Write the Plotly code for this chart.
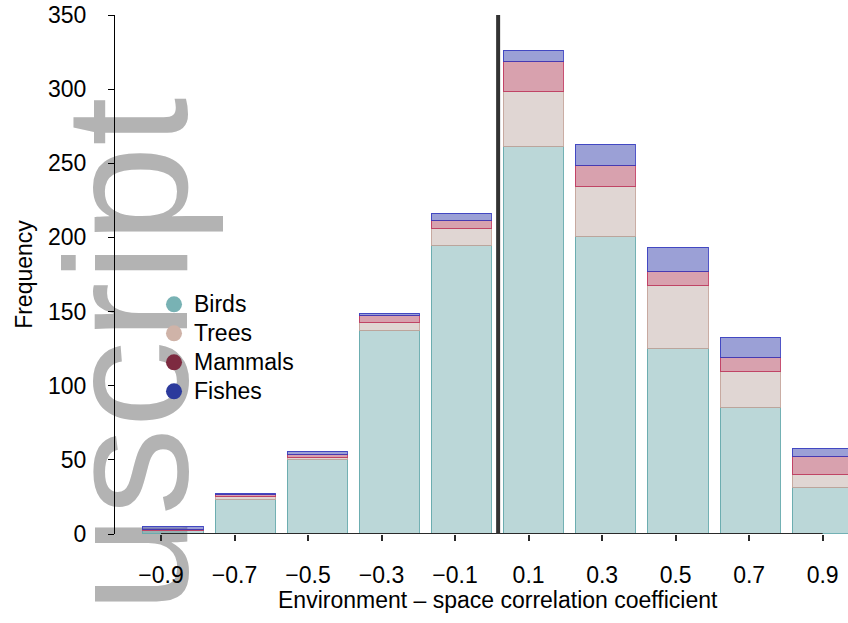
import plotly.graph_objects as go

# ---------------- data ----------------
bins = [-0.9, -0.7, -0.5, -0.3, -0.1, 0.1, 0.3, 0.5, 0.7, 0.9]
tick_labels = ["\u22120.9", "\u22120.7", "\u22120.5", "\u22120.3", "\u22120.1",
               "0.1", "0.3", "0.5", "0.7", "0.9"]
birds = [2, 23, 50, 137, 194, 261, 200, 125, 85, 31]
trees = [0, 2, 1, 5, 12, 37, 34, 42, 24, 9]
mammals = [1, 1, 2, 5, 5, 20, 14, 10, 10, 12]
fishes = [1.5, 1, 2, 1.3, 5, 7.5, 14, 16, 13, 5.5]
y_ticks = [0, 50, 100, 150, 200, 250, 300, 350]
series_names = ["Birds", "Trees", "Mammals", "Fishes"]
x_title = "Environment \u2013 space correlation coefficient"
y_title = "Frequency"
watermark = "uscript"

# ---------------- style ----------------
W, H = 848, 623
ML, MR, MT, MB = 115, 0, 15, 89
PW, PH = W - ML - MR, H - MT - MB
FONT = "Liberation Sans, Arial, Helvetica, sans-serif"
FS = 23

fills = ["rgba(120,176,178,0.5)", "rgba(193,173,167,0.5)",
         "rgba(177,67,93,0.5)", "rgba(55,65,173,0.5)"]
lines = ["rgba(100,168,172,0.9)", "rgba(196,164,154,0.9)",
         "rgba(190,50,90,0.85)", "rgba(50,56,190,0.85)"]
legend_cols = ["#78b2b4", "#cfb3a8", "#7d2a40", "#2c3a9c"]

def px2paper_x(px):
    return (px - ML) / PW

def px2paper_y(py):
    return (H - MB - py) / PH

fig = go.Figure()

for name, vals, fc, lc in zip(series_names, [birds, trees, mammals, fishes], fills, lines):
    fig.add_trace(go.Bar(
        x=bins, y=vals, name=name, showlegend=False,
        width=0.167,
        marker=dict(color=fc, line=dict(color=lc, width=1.5)),
        hoverinfo="x+y+name",
    ))

# legend entries (circle markers)
for name, col in zip(series_names, legend_cols):
    fig.add_trace(go.Scatter(
        x=[None], y=[None], mode="markers", name='<span style="font-size:23px">%s</span>' % name,
        marker=dict(color=col, size=16), xaxis="x2", yaxis="y", showlegend=True,
    ))

fig.update_layout(
    width=W, height=H,
    margin=dict(l=ML, r=MR, t=MT, b=MB, pad=0),
    paper_bgcolor="white", plot_bgcolor="white",
    barmode="stack", bargap=0,
    font=dict(family=FONT, size=FS, color="black"),
    showlegend=True,
    legend=dict(
        x=px2paper_x(154), y=px2paper_y(284.8), xanchor="left", yanchor="top",
        bgcolor="rgba(0,0,0,0)", borderwidth=0, traceorder="normal",
        font=dict(family=FONT, size=20, color="black"),
        itemsizing="trace",
    ),
    xaxis=dict(
        range=[-1.0622, 0.970], visible=False, showgrid=False, zeroline=False,
    ),
    xaxis2=dict(
        overlaying="x", anchor="y", side="bottom",
        range=[-1.0251, 0.9689],
        tickmode="array", tickvals=bins, ticktext=tick_labels,
        ticks="outside", ticklen=6, tickwidth=1.5, tickcolor="#2a2a2a",
        showline=False, showgrid=False, zeroline=False,
        tickfont=dict(family=FONT, size=FS, color="black"),
        ticklabelstandoff=14,
    ),
    yaxis=dict(
        range=[0, 350], tickmode="array", tickvals=y_ticks,
        showline=True, linecolor="black", linewidth=1,
        ticks="outside", ticklen=6, tickwidth=1, tickcolor="black",
        showgrid=False, zeroline=False,
        tickfont=dict(family=FONT, size=FS, color="black"),
        ticklabelstandoff=17,
        title=dict(text=y_title, font=dict(family=FONT, size=FS, color="black"), standoff=8),
    ),
)

# x-axis title (offset-centred as in the reference)
fig.add_annotation(
    text=x_title, xref="paper", yref="paper",
    x=px2paper_x(498.5), y=px2paper_y(600), xanchor="center", yanchor="middle",
    showarrow=False, font=dict(family=FONT, size=FS, color="black"),
)

# x-axis line spanning the tick range only
fig.add_shape(type="line", xref="x2", yref="y", x0=bins[0], x1=bins[-1], y0=0, y1=0,
              line=dict(color="#2a2a2a", width=2), layer="above")

# vertical reference line at zero
fig.add_shape(type="line", xref="x", yref="y", x0=0, x1=0, y0=0, y1=350,
              line=dict(color="#333333", width=4), layer="above")

# watermark beneath everything
cx, cy = 109, 355
fig.add_shape(type="rect", xref="paper", yref="paper",
              x0=px2paper_x(cx - 5), x1=px2paper_x(cx + 5),
              y0=px2paper_y(cy + 5), y1=px2paper_y(cy - 5),
              line=dict(width=0), fillcolor="rgba(0,0,0,0)", layer="below",
              label=dict(text=watermark, textangle=-90, textposition="middle center",
                         font=dict(family=FONT, size=175, color="#b3b3b3")))

fig.write_html("out.html")
